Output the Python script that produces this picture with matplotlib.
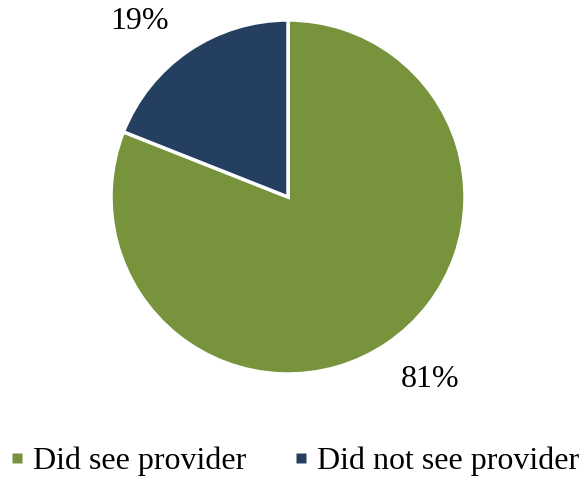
import matplotlib.pyplot as plt
from matplotlib.lines import Line2D

labels = ["Did see provider", "Did not see provider"]
shares = [81, 19]
colors = ["#77933C", "#243F60"]

# where the percentage labels sit, in pie-radius units
label_pos = [(0.80, -1.03), (-0.84, 0.99)]

plt.rcParams["font.family"] = ["Liberation Serif", "DejaVu Serif"]

fig = plt.figure(figsize=(5.79, 4.78), dpi=100)
ax = fig.add_axes([111 / 579, 104 / 478, 354 / 579, 354 / 478])

wedges, _, pcts = ax.pie(shares, colors=colors, startangle=90, counterclock=False,
                         autopct="%d%%",
                         wedgeprops={"edgecolor": "white", "linewidth": 2.5},
                         textprops={"fontsize": 23, "color": "black"})
for t, p in zip(pcts, label_pos):
    t.set_position(p)
    t.set_clip_on(False)
ax.set_xlim(-1, 1)
ax.set_ylim(-1, 1)
ax.set_aspect("equal")

handles = [Line2D([], [], linestyle="none", marker="s", markersize=7.2,
                  markerfacecolor=c, markeredgecolor="none") for c in colors]
fig.legend(handles, labels, loc="center", bbox_to_anchor=(0.51, 17 / 478),
           ncol=2, frameon=False, fontsize=23, handlelength=0.32,
           handletextpad=0.34, columnspacing=1.55)

fig.savefig("out.png", dpi=100)
